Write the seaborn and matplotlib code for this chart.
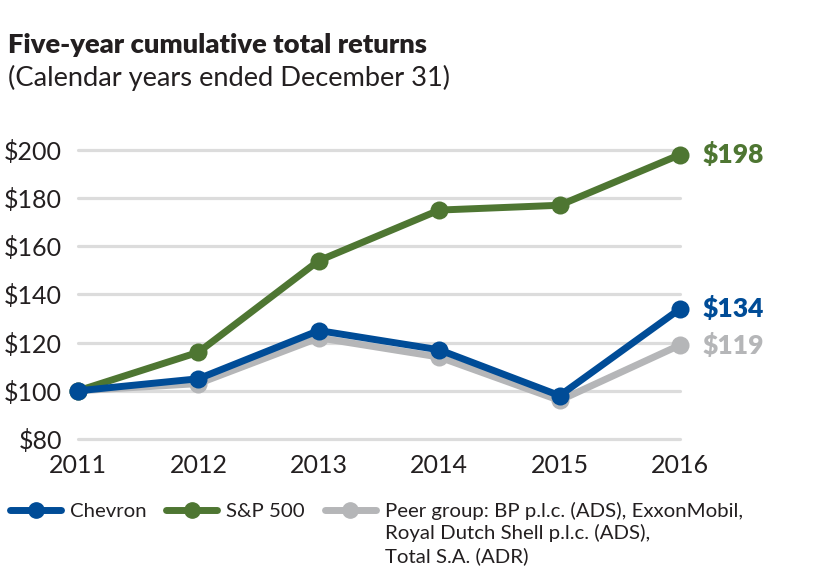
import pandas as pd
import seaborn as sns
import matplotlib.pyplot as plt
from matplotlib.lines import Line2D

# Values
years = [2011, 2012, 2013, 2014, 2015, 2016]
chevron = [100, 105, 125, 117, 98, 134]
sp500 = [100, 116, 154, 175, 177, 198]
peer = [100, 103, 122, 114, 96, 119]

names = ["Peer group", "S&P 500", "Chevron"]
colors = {"Chevron": "#004c97", "S&P 500": "#4e7632", "Peer group": "#b5b6b8"}
legend_labels = ["Chevron", "S&P 500", "Peer group: BP p.l.c. (ADS), ExxonMobil,"]
peer_more = "Royal Dutch Shell p.l.c. (ADS),\nTotal S.A. (ADR)"

df = pd.DataFrame({
    "year": years * 3,
    "value": peer + sp500 + chevron,
    "series": [n for n in names for _ in years],
})

sns.set_style("white")
plt.rcParams["font.family"] = ["Lato", "DejaVu Sans"]

fig = plt.figure(figsize=(8.15, 5.83), dpi=100)
ax = fig.add_axes([0.0957, 0.247, 0.7387, 0.496])

for y in [80, 100, 120, 140, 160, 180, 200]:
    ax.axhline(y, color="#dcdcdc", lw=2.3, zorder=0)

sns.lineplot(data=df, x="year", y="value", hue="series", hue_order=names,
             palette=colors, marker="o", markersize=13, markeredgewidth=0,
             linewidth=5, legend=False, ax=ax)
for line in ax.lines:
    line.set_clip_on(False)

ax.set_xlim(2011, 2016)
ax.set_ylim(80, 200)
ax.set_xticks(years)
ax.set_xticklabels([str(y) for y in years])
ax.set_yticks([80, 100, 120, 140, 160, 180, 200])
ax.set_yticklabels(["$80", "$100", "$120", "$140", "$160", "$180", "$200"])
ax.tick_params(axis="both", length=0, labelsize=18, colors="#231f20")
ax.tick_params(axis="y", pad=11.5)
ax.tick_params(axis="x", pad=11)
for s in ax.spines.values():
    s.set_visible(False)
ax.set_xlabel("")
ax.set_ylabel("")

# End labels
for vals, name in [(sp500, "S&P 500"), (chevron, "Chevron"), (peer, "Peer group")]:
    ax.annotate(f"${vals[-1]}", (years[-1], vals[-1]), xytext=(16, 0),
                textcoords="offset points", va="center", ha="left",
                fontsize=19, fontweight="heavy", color=colors[name])

fig.text(0.01, 0.923, "Five-year cumulative total returns", fontsize=19.7,
         fontweight="heavy", color="#231f20", va="center")
fig.text(0.01, 0.866, "(Calendar years ended December 31)", fontsize=19.6,
         color="#231f20", va="center")

handles = [Line2D([], [], color=colors[n], lw=5, marker="o", markersize=11)
           for n in ["Chevron", "S&P 500", "Peer group"]]
leg = fig.legend(handles, legend_labels, ncol=3, loc="center left",
                 bbox_to_anchor=(10 / 815, 1 - 511 / 583), frameon=False, fontsize=14.7,
                 handlelength=2.5, handletextpad=0.45, columnspacing=0.95,
                 labelcolor="#231f20", borderaxespad=0, borderpad=0)

# continuation lines of the peer-group label, aligned with its first line
fig.canvas.draw()
ext = leg.get_texts()[2].get_window_extent()
fig.text(ext.x0 / fig.bbox.width, (ext.y0 - 4) / fig.bbox.height, peer_more,
         fontsize=14.7, color="#231f20", va="top", ha="left", linespacing=1.35)

fig.savefig("out.png", dpi=100)
